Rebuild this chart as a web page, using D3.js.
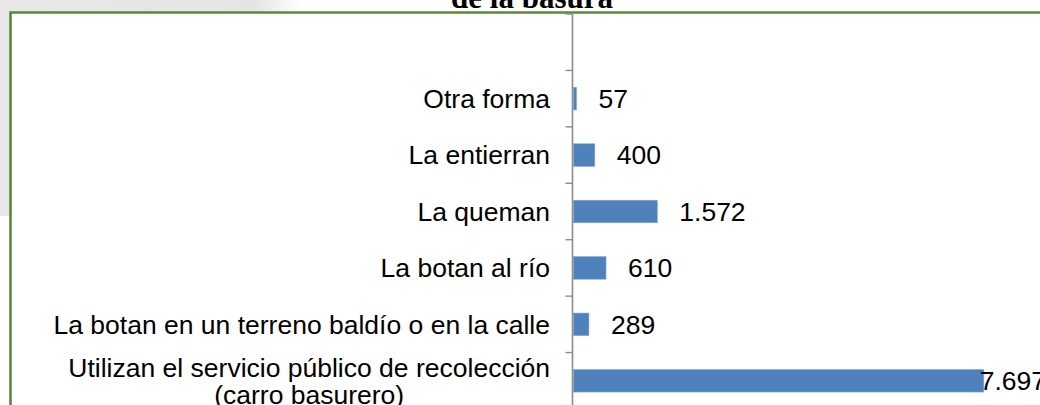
<!DOCTYPE html>
<html>
<head>
<meta charset="utf-8">
<script src="https://cdn.jsdelivr.net/npm/d3@7"></script>
<style>
  html, body { margin: 0; padding: 0; background: #fff; }
  svg { display: block; }
  text { font-family: "Liberation Sans", Arial, sans-serif; }
</style>
</head>
<body>
<svg id="chart" width="1040" height="405"></svg>
<script>
// Households by way of disposing of garbage (bottom-to-top category order)
const categories = [
  "Utilizan el servicio público de recolección\n(carro basurero)",
  "La botan en un terreno baldío o en la calle",
  "La botan al río",
  "La queman",
  "La entierran",
  "Otra forma"
];
const values = [7697, 289, 610, 1572, 400, 57];
const valueLabels = ["7.697", "289", "610", "1.572", "400", "57"];
const titleLines = ["de la basura"];

const W = 1040, H = 405;
const svg = d3.select("#chart");

// grey backdrop behind the chart frame
const defs = svg.append("defs");
const grad = defs.append("linearGradient").attr("id", "bandFade")
  .attr("x1", 0).attr("x2", 1).attr("y1", 0).attr("y2", 0);
grad.append("stop").attr("offset", "0%").attr("stop-color", "#e8e8e8");
grad.append("stop").attr("offset", "85%").attr("stop-color", "#e4e4e4");
grad.append("stop").attr("offset", "100%").attr("stop-color", "#ffffff");
svg.append("rect").attr("x", 0).attr("y", 0).attr("width", 300).attr("height", 12)
  .attr("fill", "url(#bandFade)");
svg.append("rect").attr("x", 0).attr("y", 0).attr("width", 10).attr("height", 216)
  .attr("fill", "#e8e8e8");

// chart frame (green border)
const frame = { left: 10.5, top: 12.5 };
svg.append("path")
  .attr("d", `M${frame.left},${H + 2} V${frame.top} H${W + 2}`)
  .attr("fill", "none").attr("stroke", "#5a8a38").attr("stroke-width", 2.6);

// title (second line of the chart title)
svg.append("text")
  .attr("x", 532).attr("y", 7.5)
  .attr("text-anchor", "middle")
  .style("font-family", "'Liberation Serif', 'Times New Roman', serif")
  .style("font-weight", "bold")
  .style("font-size", "31px")
  .text(titleLines[0]);

// plot geometry
const plot = { left: 573.5, top: 14, bottom: 409, labelRight: 1046 };

// one spare slot above the last category, as in the source chart
const slots = categories.slice().reverse();
slots.unshift("");
const y = d3.scaleBand().domain(slots).range([plot.top, plot.bottom]);
const step = y.step();
const barPad = 0.3;

const x = d3.scaleLinear().domain([0, 8000]).range([plot.left, 1000]);

// bars
svg.append("g").selectAll("rect")
  .data(categories.map((c, i) => ({ c, v: values[i] })))
  .join("rect")
  .attr("x", x(0))
  .attr("y", d => y(d.c) + step * barPad)
  .attr("width", d => x(d.v) - x(0))
  .attr("height", step * (1 - 2 * barPad))
  .attr("fill", "#4f81bd")
  .attr("stroke", "#86a8d4").attr("stroke-width", 0.6);

// category axis: line and ticks on band boundaries
const axisX = plot.left - 1;
const axis = svg.append("g").attr("stroke", "#8c8c8c");
axis.append("line")
  .attr("x1", axisX).attr("x2", axisX)
  .attr("y1", plot.top).attr("y2", plot.bottom)
  .attr("stroke-width", 1.6);
axis.selectAll("line.tick")
  .data(slots.map(s => y(s)).concat([plot.bottom]))
  .join("line").attr("class", "tick")
  .attr("x1", axisX - 7).attr("x2", axisX)
  .attr("y1", d => d).attr("y2", d => d)
  .attr("stroke-width", 1.4);

// category labels (right aligned, multi-line labels centred on each other)
const fontSize = 26.5;
const labelRight = 550;
const catG = svg.append("g").style("font-size", fontSize + "px").attr("fill", "#000");
categories.forEach(c => {
  const lines = c.split("\n");
  const cy = y(c) + step / 2;
  const lh = 27;
  const t = catG.append("text").attr("text-anchor", "middle");
  const spans = lines.map((ln, i) => t.append("tspan").text(ln)
    .attr("y", cy + (i - (lines.length - 1) / 2) * lh)
    .attr("dy", "0.35em"));
  const w = d3.max(spans, s => s.node().getComputedTextLength());
  spans.forEach(s => s.attr("x", labelRight - w / 2));
});

// value labels beside bar ends, kept inside the chart area
const valG = svg.append("g").style("font-size", fontSize + "px").attr("fill", "#000");
categories.forEach((c, i) => {
  const t = valG.append("text").text(valueLabels[i])
    .attr("y", y(c) + step / 2).attr("dy", "0.35em");
  const w = t.node().getComputedTextLength();
  t.attr("x", Math.min(x(values[i]) + 22, plot.labelRight - w));
});
</script>
</body>
</html>
